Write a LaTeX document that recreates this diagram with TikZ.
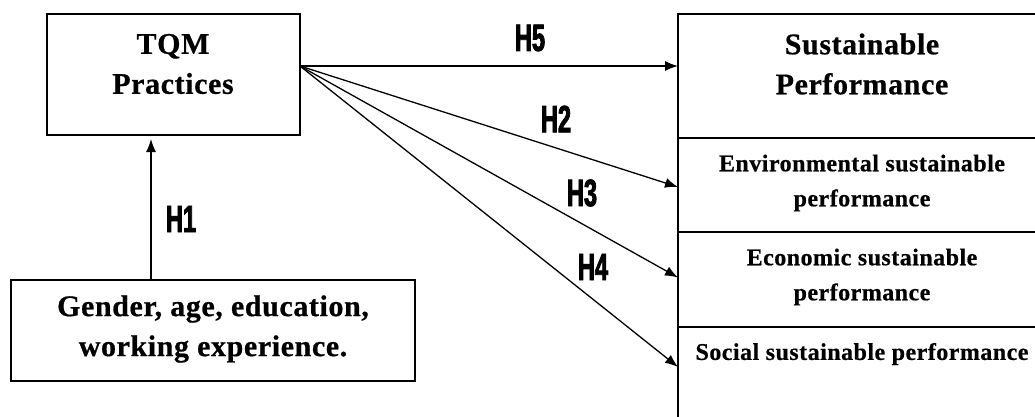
\documentclass[tikz,border=0pt]{standalone}
\usepackage{fontspec}
\setmainfont{Liberation Serif}[BoldFeatures={FakeBold=0.6, LetterSpace=2}]
\newfontfamily\hfont[FakeStretch=0.62, FakeBold=2.2]{Liberation Sans}
\usetikzlibrary{positioning, arrows.meta}

\begin{document}
\begin{tikzpicture}[x=1pt, y=-1pt, node distance=0pt, thick, >={Latex[length=13pt, width=10pt]}]

    % Define styles
    \tikzstyle{rec} = [draw, rectangle, line width=1.6pt, inner sep=0pt, outer sep=0pt, minimum width=370pt]
    \tikzstyle{bigtxt} = [align=center, inner sep=0pt, font=\bfseries\fontsize{30}{40}\selectfont]
    \tikzstyle{smalltxt} = [align=center, inner sep=0pt, font=\bfseries\fontsize{24}{35}\selectfont]
    \tikzstyle{hyp} = [inner sep=0pt, font=\hfont\bfseries\fontsize{38}{38}\selectfont]
    \tikzstyle{link} = [->, line width=1.3pt]

    \useasboundingbox (0,0) rectangle (1035,417);
    \clip (0,0) rectangle (1035,417);

    % LEFT SIDE
    \node (tqm) [rec, minimum width=253pt, minimum height=121pt, anchor=north west] at (47,14) {};
    \node (tqm_text) [bigtxt] at (173,64) {TQM\\Practices};

    \node (demo) [rec, minimum width=404pt, minimum height=101pt, anchor=north west] at (11,280) {};
    \node (demo_text) [bigtxt] at (213,329) {Gender, age, education,\\working experience.};

    % RIGHT SIDE
    \node (sp) [rec, minimum height=124pt, anchor=north west] at (678,14) {};
    \node (env) [rec, minimum height=94pt, below=of sp] {};
    \node (eco) [rec, minimum height=95pt, below=of env] {};
    \node (soc) [rec, minimum height=110pt, below=of eco] {};

    \node (sp_text) [bigtxt] at (862,64) {Sustainable\\Performance};
    \node (env_text) [smalltxt] at (862,183) {Environmental sustainable\\performance};
    \node (eco_text) [smalltxt] at (862,277) {Economic sustainable\\performance};
    \node (soc_text) [smalltxt] at (862,354) {Social sustainable performance};

    % CONNECTIONS
    \coordinate (tqm_out) at (300,66);
    \coordinate (h1_base) at (151,280);

    \draw[link, shorten >=4pt] (h1_base) -- (h1_base |- tqm.south);
    \draw[link] (tqm_out) -- (tqm_out -| sp.west);
    \draw[link] (tqm_out) -- ([yshift=-2pt]env.west);
    \draw[link] (tqm_out) -- ([yshift=2pt]eco.west);
    \draw[link] (tqm_out) -- ([yshift=15pt]soc.west);

    % Hypotheses
    \node (h1) [hyp] at (181,219) {H1};
    \node (h2) [hyp] at (556,119) {H2};
    \node (h3) [hyp] at (582,193) {H3};
    \node (h4) [hyp] at (593,267) {H4};
    \node (h5) [hyp] at (530,38) {H5};

\end{tikzpicture}
\end{document}
